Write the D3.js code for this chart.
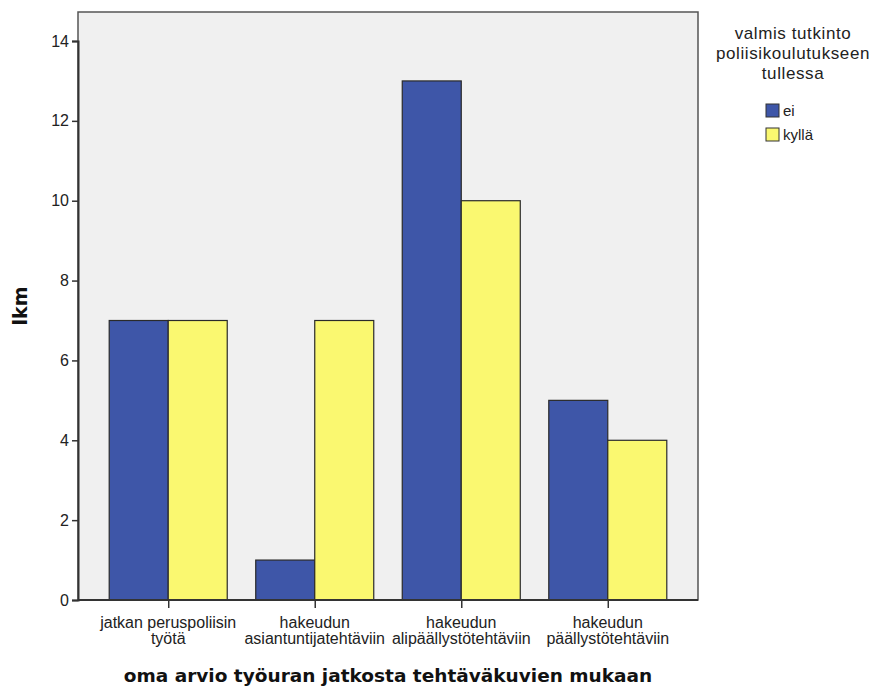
<!DOCTYPE html>
<html><head><meta charset="utf-8">
<script src="https://cdn.jsdelivr.net/npm/d3@7"></script>
<style>body{margin:0;background:#fff}svg{display:block}</style>
</head><body>
<script>
const categories = [["jatkan peruspoliisin","työtä"],["hakeudun","asiantuntijatehtäviin"],["hakeudun","alipäällystötehtäviin"],["hakeudun","päällystötehtäviin"]];
const seriesNames = ["ei","kyllä"];
const eiValues = [7,1,13,5];
const kyllaValues = [7,7,10,4];
const yTicks = [0,2,4,6,8,10,12,14];
const colors = ["#3e56a8","#faf870"];
const legendTitle = ["valmis tutkinto","poliisikoulutukseen","tullessa"];

const W=877,H=689;
const svg=d3.select("body").append("svg").attr("width",W).attr("height",H);
const L=78,R=698,T=12,B=600;
const y=d3.scaleLinear().domain([0,14]).range([B,B-559]);
const x=d3.scaleBand().domain(d3.range(categories.length)).range([L,R]).paddingInner(0.1945).paddingOuter(0.213);
const xs=d3.scaleBand().domain(seriesNames).range([0,x.bandwidth()]);
const font="'Liberation Sans',Arial,sans-serif";

svg.append("rect").attr("x",L).attr("y",T).attr("width",R-L).attr("height",B-T).attr("fill","#f0f0f0").attr("stroke","#555").attr("stroke-width",1.5);

const series=[eiValues,kyllaValues];
seriesNames.forEach((s,si)=>{
  svg.append("g").selectAll("rect").data(series[si]).join("rect")
    .attr("x",(d,i)=>x(i)+xs(s)).attr("width",xs.bandwidth())
    .attr("y",d=>y(d)).attr("height",d=>B-y(d))
    .attr("fill",colors[si]).attr("stroke","#2a2a2a").attr("stroke-width",1.2);
});

const ya=svg.append("g").attr("transform",`translate(${L},0)`)
  .call(d3.axisLeft(y).tickValues(yTicks).tickSize(6).tickPadding(3).tickFormat(d3.format("d")));
ya.select(".domain").attr("stroke","#333").attr("stroke-width",2);
ya.selectAll(".tick line").attr("stroke","#333").attr("stroke-width",1.5);
ya.selectAll("text").attr("font-family",font).attr("font-size",16).attr("fill","#222");

const xa=svg.append("g").attr("transform",`translate(0,${B})`)
  .call(d3.axisBottom(d3.scalePoint().domain(d3.range(4)).range([x(0)+x.bandwidth()/2,x(3)+x.bandwidth()/2])).tickSize(8).tickFormat(""));
xa.select(".domain").remove();
xa.selectAll(".tick line").attr("stroke","#333").attr("stroke-width",1.5);
svg.append("line").attr("x1",L).attr("x2",R).attr("y1",B).attr("y2",B).attr("stroke","#333").attr("stroke-width",2);

categories.forEach((c,i)=>{
  const t=svg.append("text").attr("x",x(i)+x.bandwidth()/2).attr("y",628).attr("text-anchor","middle")
    .attr("font-family",font).attr("font-size",16).attr("fill","#222");
  c.forEach((line,j)=>t.append("tspan").attr("x",x(i)+x.bandwidth()/2).attr("dy",j?16:0).text(line));
});

svg.append("text").attr("x",388).attr("y",682).attr("text-anchor","middle")
  .attr("font-family","'DejaVu Sans',Verdana,sans-serif").attr("font-weight","bold").attr("font-size",18.5).attr("fill","#111")
  .text("oma arvio työuran jatkosta tehtäväkuvien mukaan");
svg.append("text").attr("transform","translate(27,306) rotate(-90)").attr("text-anchor","middle")
  .attr("font-family","'DejaVu Sans',Verdana,sans-serif").attr("font-weight","bold").attr("font-size",19).attr("fill","#111")
  .text("lkm");

const lt=svg.append("text").attr("text-anchor","middle").attr("font-family",font).attr("font-size",17).attr("fill","#222").attr("letter-spacing",0.6);
legendTitle.forEach((l,i)=>lt.append("tspan").attr("x",793).attr("y",39+i*20).text(l));
seriesNames.forEach((s,i)=>{
  svg.append("rect").attr("x",766).attr("y",104+i*24).attr("width",13).attr("height",13)
    .attr("fill",colors[i]).attr("stroke","#333").attr("stroke-width",1);
  svg.append("text").attr("x",783).attr("y",116+i*24).attr("font-family",font).attr("font-size",15).attr("fill","#222").text(s);
});
</script>
</body></html>
